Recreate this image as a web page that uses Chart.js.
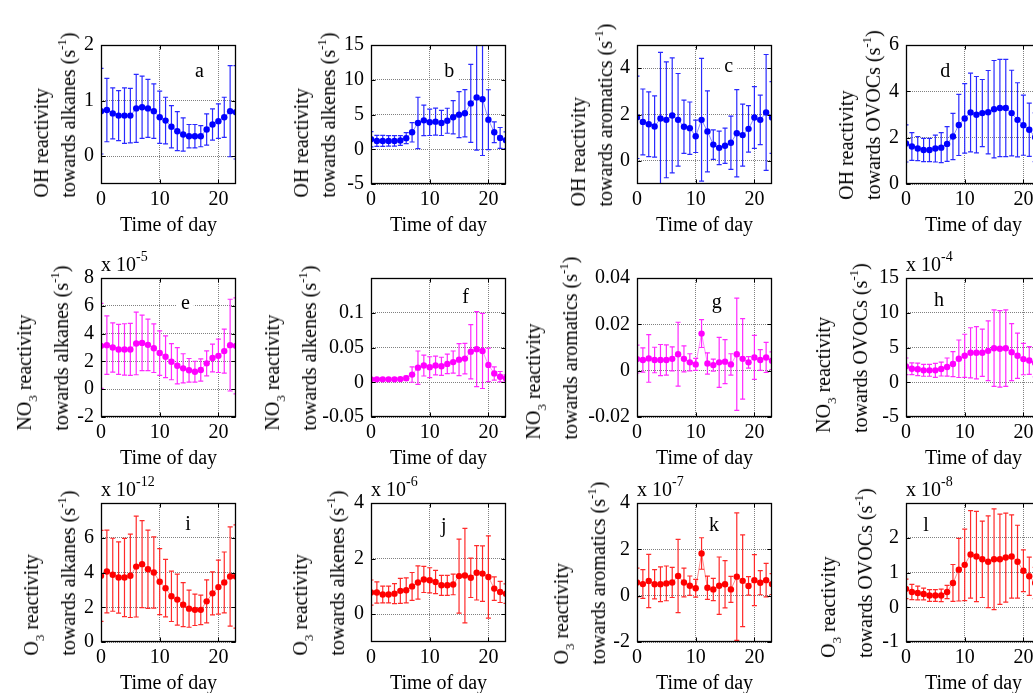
<!DOCTYPE html>
<html><head><meta charset="utf-8">
<script src="https://cdn.jsdelivr.net/npm/chart.js@4.4.0/dist/chart.umd.min.js"></script>
<style>
html,body{margin:0;padding:0;background:#fff;overflow:hidden;width:1033px;height:693px;}
#wrap{position:relative;width:1033px;height:693px;overflow:hidden;font-family:'Liberation Serif','Times New Roman',serif;color:#000;background:#fff;}
canvas{position:absolute;}
.ytitle{position:absolute;white-space:nowrap;font-size:20px;text-align:left;transform:translate(-50%,-50%) rotate(-90deg);}
.ytitle .ln{display:block;}
.ytitle sup{font-size:13px;line-height:0;vertical-align:baseline;position:relative;top:-9px;}
.ytitle sub{font-size:13px;line-height:0;vertical-align:baseline;position:relative;top:6px;}
.mult{position:absolute;font-size:20px;line-height:20px;white-space:nowrap;}
.mult sup{font-size:14px;line-height:0;vertical-align:baseline;position:relative;top:-10px;}
</style></head><body><div id="wrap"></div>
<script>
// ---------------- data ----------------
const hours = [0,1,2,3,4,5,6,7,8,9,10,11,12,13,14,15,16,17,18,19,20,21,22,23];
const xTicks = [0,10,20];

// OH reactivity (s^-1)
const ohAlkanes     = [0.81,0.83,0.77,0.73,0.73,0.73,0.86,0.88,0.86,0.81,0.70,0.64,0.53,0.45,0.39,0.36,0.36,0.36,0.48,0.57,0.63,0.70,0.81,0.79];
const ohAlkanesErr  = [0.77,0.57,0.46,0.45,0.50,0.49,0.61,0.56,0.52,0.49,0.47,0.42,0.38,0.35,0.30,0.21,0.21,0.19,0.28,0.28,0.31,0.36,0.82,0.84];
const ohAlkenes     = [1.44,1.2,1.2,1.2,1.2,1.25,1.6,2.44,3.78,4.16,3.88,3.97,3.78,4.1,4.6,4.98,5.17,6.6,7.46,7.2,4.26,2.44,1.63,1.3];
const ohAlkenesErr  = [1.1,0.8,0.8,0.75,0.75,0.7,0.8,1.4,3.7,2.2,1.9,1.95,1.8,1.8,2.4,3.3,3.4,5.6,7.6,8.1,4.3,1.5,1.5,1.2];
const ohAromatics   = [1.88,1.68,1.58,1.48,1.83,1.77,1.96,1.77,1.47,1.41,1.06,1.77,1.27,0.70,0.56,0.65,0.78,1.19,1.11,1.38,1.87,1.77,2.09,1.87];
const ohAromaticsErr= [1.78,1.42,1.40,1.32,2.85,2.50,2.48,2.00,1.15,1.13,0.70,2.65,1.75,0.64,0.72,0.76,1.15,1.88,1.34,1.00,1.33,1.07,2.50,1.55];
const ohOvocs       = [1.75,1.62,1.53,1.47,1.47,1.53,1.57,1.73,2.05,2.55,2.83,3.09,2.99,3.06,3.10,3.23,3.28,3.28,3.06,2.77,2.54,2.34,2.02,1.85];
const ohOvocsErr    = [0.80,0.60,0.52,0.50,0.50,0.58,0.65,0.75,1.00,1.32,1.50,1.70,1.65,1.45,1.80,2.10,2.10,2.10,1.85,1.60,1.30,1.15,1.05,0.90];

// NO3 reactivity (alkanes in 1e-5, OVOCs in 1e-4)
const no3Alkanes     = [3.12,3.17,3.0,2.86,2.86,2.86,3.29,3.33,3.19,2.95,2.6,2.33,1.98,1.69,1.5,1.36,1.26,1.38,1.86,2.24,2.4,2.74,3.17,3.12];
const no3AlkanesErr  = [3.06,2.1,1.77,1.8,1.85,1.87,2.25,2.0,1.85,1.75,1.6,1.5,1.3,1.3,1.05,0.85,0.75,0.8,0.9,1.0,1.2,1.58,3.3,3.45];
const no3Alkenes     = [0.0042,0.0042,0.0042,0.0042,0.0042,0.0045,0.0057,0.011,0.021,0.024,0.0217,0.024,0.023,0.0264,0.029,0.0325,0.034,0.044,0.0476,0.045,0.025,0.0127,0.008,0.0057];
const no3AlkenesErr  = [0.002,0.0015,0.0015,0.0015,0.0015,0.0015,0.003,0.011,0.024,0.015,0.015,0.0135,0.013,0.014,0.016,0.023,0.022,0.039,0.054,0.054,0.024,0.0095,0.0075,0.005];
const no3Aromatics   = [0.005,0.0046,0.0053,0.0046,0.0046,0.0046,0.0051,0.0071,0.0051,0.0036,0.0027,0.016,0.0031,0.0024,0.0036,0.0039,0.0027,0.0071,0.0051,0.0036,0.0057,0.0046,0.0057,0.0043];
const no3AromaticsErr= [0.006,0.0052,0.0103,0.0055,0.0067,0.0065,0.0052,0.0138,0.0056,0.0037,0.0026,0.006,0.0046,0.0026,0.0108,0.0095,0.0046,0.0242,0.0174,0.0025,0.0095,0.0045,0.0065,0.0038];
const no3Ovocs       = [2.29,1.95,1.86,1.71,1.71,1.71,1.9,2.19,2.62,3.38,3.81,4.24,4.24,4.24,4.52,4.9,4.81,4.9,4.33,3.81,3.33,3.14,2.76,2.5];
const no3OvocsErr    = [1.2,0.85,0.9,0.85,0.85,1.0,1.0,1.3,1.8,2.7,3.1,3.6,3.75,3.4,4.3,5.5,5.5,5.5,4.1,3.25,2.25,2.0,2.0,1.5];

// O3 reactivity (alkanes 1e-12, alkenes 1e-6, aromatics 1e-7, OVOCs 1e-8)
const o3Alkanes      = [3.81,4.06,3.87,3.71,3.71,3.81,4.34,4.48,4.19,4.0,3.47,3.1,2.63,2.44,2.15,1.92,1.85,1.85,2.34,2.8,3.16,3.43,3.77,3.77];
const o3AlkanesErr   = [2.62,2.38,2.1,2.05,2.25,2.4,2.9,2.5,2.25,2.05,1.9,1.65,1.45,1.47,1.27,1.07,0.9,0.85,1.24,1.24,1.55,1.75,2.86,2.97];
const o3Alkenes      = [0.78,0.78,0.71,0.71,0.74,0.84,0.86,1.0,1.14,1.25,1.22,1.16,1.04,1.04,1.07,1.37,1.39,1.31,1.49,1.46,1.34,0.92,0.8,0.74];
const o3AlkenesErr   = [0.45,0.38,0.3,0.3,0.36,0.45,0.45,0.5,0.6,0.47,0.45,0.42,0.36,0.36,0.37,1.33,1.7,0.71,0.98,1.0,1.48,0.42,0.38,0.35];
const o3Aromatics    = [0.57,0.5,0.63,0.49,0.49,0.53,0.57,0.85,0.57,0.43,0.32,1.82,0.34,0.27,0.43,0.49,0.27,0.82,0.64,0.42,0.67,0.56,0.67,0.5];
const o3AromaticsErr = [0.62,0.62,1.15,0.63,0.75,0.75,0.65,1.58,0.62,0.42,0.38,0.68,0.5,0.48,1.24,1.02,0.56,2.75,1.98,0.4,1.1,0.52,0.72,0.45];
const o3Ovocs        = [0.53,0.44,0.41,0.38,0.34,0.34,0.34,0.44,0.7,1.08,1.22,1.52,1.46,1.38,1.31,1.38,1.38,1.43,1.46,1.31,1.05,0.89,0.7,0.6];
const o3OvocsErr     = [0.28,0.22,0.2,0.17,0.17,0.17,0.18,0.19,0.53,0.9,1.03,1.26,1.3,1.1,1.32,1.45,1.3,1.28,1.2,1.05,0.6,0.55,0.45,0.4];

// y tick values per panel
const yTicksA = [0,1,2],        yTicksB = [-5,0,5,10,15],   yTicksC = [0,2,4],          yTicksD = [0,2,4,6];
const yTicksE = [-2,0,2,4,6,8], yTicksF = [-0.05,0,0.05,0.1], yTicksG = [-0.02,0,0.02,0.04], yTicksH = [-5,0,5,10,15];
const yTicksI = [0,2,4,6],      yTicksJ = [0,2,4],          yTicksK = [-2,0,2,4],       yTicksL = [-1,0,1,2];

// text
const rowNames = ['OH', 'NO<sub>3</sub>', 'O<sub>3</sub>'];
const speciesNames = ['alkanes', 'alkenes', 'aromatics', 'OVOCs'];
const xTitle = 'Time of day';

// ---------------- layout ----------------
const colLeft = [101, 371, 637, 906], rowTop = [45, 278, 503], PW = 135, PH = 139;
const Y_W = 80, PAD_T = 28, PAD_R = 20, X_H = 54;
const rowLineGap = [27, 37, 37];
const FONT = "'Liberation Serif','Times New Roman',serif";
const seriesColors = ['#0000ff', '#ff00ff', '#ff0000'];
const barColors = ['#2a2aff', '#ff2aff', '#ff2a2a'];
const lineColors = ['rgba(0,0,255,0.45)', 'rgba(255,0,255,0.45)', 'rgba(255,0,0,0.45)'];

const panels = [
  {row:0,col:0,mean:ohAlkanes,err:ohAlkanesErr,yMin:-0.5,yMax:2,ticks:yTicksA,mult:null,label:'a',lx:0.73,ly:0.19,gap:26},
  {row:0,col:1,mean:ohAlkenes,err:ohAlkenesErr,yMin:-5,yMax:15,ticks:yTicksB,mult:null,label:'b',lx:0.58,ly:0.19,gap:36},
  {row:0,col:2,mean:ohAromatics,err:ohAromaticsErr,yMin:-1,yMax:5,ticks:yTicksC,mult:null,label:'c',lx:0.68,ly:0.16,gap:25},
  {row:0,col:3,mean:ohOvocs,err:ohOvocsErr,yMin:0,yMax:6,ticks:yTicksD,mult:null,label:'d',lx:0.29,ly:0.19,gap:26},
  {row:1,col:0,mean:no3Alkanes,err:no3AlkanesErr,yMin:-2,yMax:8,ticks:yTicksE,mult:'-5',label:'e',lx:0.625,ly:0.186,gap:33},
  {row:1,col:1,mean:no3Alkenes,err:no3AlkenesErr,yMin:-0.05,yMax:0.15,ticks:yTicksF,mult:null,label:'f',lx:0.70,ly:0.14,gap:55},
  {row:1,col:2,mean:no3Aromatics,err:no3AromaticsErr,yMin:-0.02,yMax:0.04,ticks:yTicksG,mult:null,label:'g',lx:0.59,ly:0.18,gap:60},
  {row:1,col:3,mean:no3Ovocs,err:no3OvocsErr,yMin:-5,yMax:15,ticks:yTicksH,mult:'-4',label:'h',lx:0.245,ly:0.165,gap:39},
  {row:2,col:0,mean:o3Alkanes,err:o3AlkanesErr,yMin:0,yMax:8,ticks:yTicksI,mult:'-12',label:'i',lx:0.645,ly:0.16,gap:26},
  {row:2,col:1,mean:o3Alkenes,err:o3AlkenesErr,yMin:-1,yMax:4,ticks:yTicksJ,mult:'-6',label:'j',lx:0.54,ly:0.17,gap:27},
  {row:2,col:2,mean:o3Aromatics,err:o3AromaticsErr,yMin:-2,yMax:4,ticks:yTicksK,mult:'-7',label:'k',lx:0.57,ly:0.165,gap:32},
  {row:2,col:3,mean:o3Ovocs,err:o3OvocsErr,yMin:-1,yMax:3,ticks:yTicksL,mult:'-8',label:'l',lx:0.148,ly:0.165,gap:34}
];

Chart.defaults.font.family = FONT;
Chart.defaults.font.size = 20;
Chart.defaults.color = '#000';

// error bars drawn through the chart's own scales (closure per panel)
function makeErrorBarPlugin(errs, barColor) {
  return {
    id: 'errorBars',
    beforeDatasetsDraw(chart) {
      const ctx = chart.ctx, a = chart.chartArea, x = chart.scales.x, y = chart.scales.y;
      const pts = chart.data.datasets[0].data;
      ctx.save();
      ctx.beginPath(); ctx.rect(a.left, a.top, a.right - a.left, a.bottom - a.top); ctx.clip();
      ctx.setLineDash([]);
      ctx.globalAlpha = 1;
      ctx.lineWidth = 1.2;
      ctx.strokeStyle = barColor;
      ctx.beginPath();
      pts.forEach((p, i) => {
        const px = x.getPixelForValue(p.x);
        const yt = y.getPixelForValue(p.y + errs[i]);
        const yb = y.getPixelForValue(p.y - errs[i]);
        ctx.moveTo(px, yt); ctx.lineTo(px, yb);
        ctx.moveTo(px - 2.5, yt); ctx.lineTo(px + 2.5, yt);
        ctx.moveTo(px - 2.5, yb); ctx.lineTo(px + 2.5, yb);
      });
      ctx.stroke();
      ctx.restore();
    }
  };
}

function makeFramePlugin(text, fx, fy) {
  return {
    id: 'frame',
    afterDraw(chart) {
      const ctx = chart.ctx, a = chart.chartArea, x = chart.scales.x, y = chart.scales.y;
      ctx.save();
      ctx.font = '20px ' + FONT;
      const w = ctx.measureText(text).width;
      const cx = a.left + fx * (a.right - a.left);
      const cy = a.top + fy * (a.bottom - a.top);
      ctx.fillStyle = '#fff';
      ctx.fillRect(cx - w / 2 - 4, cy - 10, w + 8, 20);
      ctx.fillStyle = '#000'; ctx.textAlign = 'center'; ctx.textBaseline = 'middle';
      ctx.fillText(text, cx, cy);
      const L = Math.round(a.left) + 0.5, R = Math.round(a.right) - 0.5;
      const T = Math.round(a.top) + 0.5, B = Math.round(a.bottom) - 0.5;
      ctx.strokeStyle = '#000'; ctx.lineWidth = 1;
      ctx.beginPath();
      x.ticks.forEach(t => {
        const px = Math.round(x.getPixelForValue(t.value)) + 0.5;
        ctx.moveTo(px, B); ctx.lineTo(px, B - 4);
        ctx.moveTo(px, T); ctx.lineTo(px, T + 4);
      });
      y.ticks.forEach(t => {
        const py = Math.round(y.getPixelForValue(t.value)) + 0.5;
        ctx.moveTo(L, py); ctx.lineTo(L + 4, py);
        ctx.moveTo(R, py); ctx.lineTo(R - 4, py);
      });
      ctx.stroke();
      ctx.lineWidth = 1.3;
      ctx.strokeRect(L, T, R - L, B - T);
      ctx.restore();
    }
  };
}

const wrap = document.getElementById('wrap');

panels.forEach(p => {
  const cv = document.createElement('canvas');
  cv.width = Y_W + PW + PAD_R; cv.height = PAD_T + PH + X_H;
  cv.style.width = cv.width + 'px'; cv.style.height = cv.height + 'px';
  wrap.appendChild(cv);
  const color = seriesColors[p.row];
  const chart = new Chart(cv, {
    type: 'line',
    data: {
      datasets: [{
        data: hours.map((h, i) => ({x: h, y: p.mean[i]})),
        borderColor: lineColors[p.row],
        borderWidth: 1,
        backgroundColor: color,
        pointBackgroundColor: color,
        pointBorderColor: color,
        pointBorderWidth: 0,
        pointRadius: 3.2,
        pointHoverRadius: 3.2,
        tension: 0
      }]
    },
    options: {
      responsive: false, animation: false, events: [], devicePixelRatio: 1,
      layout: {padding: {left: 0, top: PAD_T, right: PAD_R, bottom: 0}},
      plugins: {legend: {display: false}, tooltip: {enabled: false}},
      scales: {
        x: {
          type: 'linear', min: 0, max: 23,
          afterBuildTicks: s => { s.ticks = xTicks.map(v => ({value: v})); },
          afterFit: s => { s.height = X_H; },
          grid: {color: '#808080', drawTicks: false, lineWidth: 1},
          border: {display: false, dash: [1, 1]},
          ticks: {padding: 4, color: '#000', font: {size: 20, family: FONT}, maxRotation: 0, callback: v => String(v)},
          title: {display: true, text: xTitle, color: '#000', font: {size: 20, family: FONT}, padding: {top: 0, bottom: 0}}
        },
        y: {
          type: 'linear', min: p.yMin, max: p.yMax,
          afterBuildTicks: s => { s.ticks = p.ticks.map(v => ({value: v})); },
          afterFit: s => { s.width = Y_W; },
          grid: {color: '#808080', drawTicks: false, lineWidth: 1},
          border: {display: false, dash: [1, 1]},
          ticks: {padding: 7, color: '#000', font: {size: 20, family: FONT}, callback: v => String(v)}
        }
      }
    },
    plugins: [makeErrorBarPlugin(p.err, barColors[p.row]), makeFramePlugin(p.label, p.lx, p.ly)]
  });
  const ca = chart.chartArea;
  const plotL = colLeft[p.col], plotT = rowTop[p.row];
  cv.style.left = (plotL - ca.left) + 'px';
  cv.style.top = (plotT - ca.top) + 'px';

  // y-axis title (two left-aligned lines, block centred on the plot)
  const Lg = rowLineGap[p.row];
  const yt = document.createElement('div');
  yt.className = 'ytitle';
  yt.innerHTML = '<span class="ln" style="height:' + Lg + 'px;line-height:' + Lg + 'px">' + rowNames[p.row] + ' reactivity</span>' +
                 '<span class="ln" style="height:' + Lg + 'px;line-height:' + Lg + 'px">towards ' + speciesNames[p.col] + ' (s<sup>-1</sup>)</span>';
  const line2Base = plotL - p.gap;
  yt.style.left = (line2Base - Lg / 2 - 6.75) + 'px';
  yt.style.top = (plotT + PH / 2) + 'px';
  wrap.appendChild(yt);

  // exponent multiplier
  if (p.mult) {
    const m = document.createElement('div');
    m.className = 'mult';
    m.innerHTML = 'x 10<sup>' + p.mult + '</sup>';
    m.style.left = plotL + 'px';
    m.style.top = (plotT - 7 - 17) + 'px';
    wrap.appendChild(m);
  }
});
</script>
</body></html>
